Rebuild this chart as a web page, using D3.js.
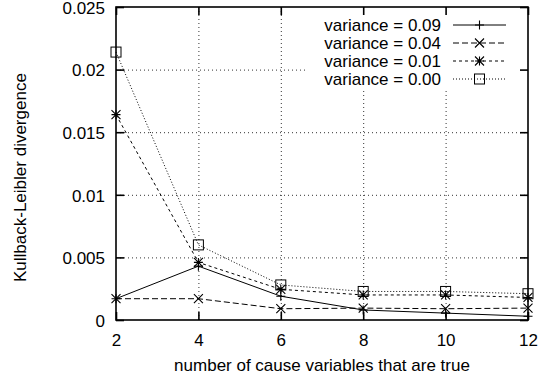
<!DOCTYPE html>
<html>
<head>
<meta charset="utf-8">
<script src="https://cdn.jsdelivr.net/npm/d3@7"></script>
<style>
  body { margin: 0; background: #fff; }
  svg { display: block; font-family: "Liberation Sans", Arial, Helvetica, sans-serif; }
</style>
</head>
<body>
<div id="chart"></div>
<script>
// data
var causes = [2, 4, 6, 8, 10, 12];
var var09 = [0.0017, 0.0043, 0.0019, 0.0008, 0.00055, 0.0003];
var var04 = [0.0017, 0.0017, 0.0009, 0.00095, 0.0009, 0.00095];
var var01 = [0.0164, 0.0046, 0.00245, 0.002, 0.002, 0.0018];
var var00 = [0.0214, 0.006, 0.0028, 0.00228, 0.00228, 0.0021];
var seriesNames = ["variance = 0.09", "variance = 0.04", "variance = 0.01", "variance = 0.00"];
var xTicks = [2, 4, 6, 8, 10, 12];
var yTicks = [0, 0.005, 0.01, 0.015, 0.02, 0.025];

function init() {
    var w = 538, h = 383;
    var left = 116, right = 528, top = 7, bottom = 320;
    var fs = 17;

    var xScale = d3.scaleLinear().domain([2, 12]).range([left, right]);
    var yScale = d3.scaleLinear().domain([0, 0.025]).range([bottom, top]);

    var svg = d3.select("#chart").append("svg")
                .attr("width", w)
                .attr("height", h);

    // dotted grid
    svg.append("g")
        .attr("transform", "translate(0," + bottom + ")")
        .call(d3.axisBottom(xScale).tickValues(xTicks.slice(1, -1)).tickSize(-(bottom - top)).tickFormat(""))
        .call(function(g){ g.select(".domain").remove(); })
        .selectAll("line")
        .attr("stroke", "#333")
        .attr("stroke-dasharray", "1,3");
    svg.append("g")
        .attr("transform", "translate(" + left + ",0)")
        .call(d3.axisLeft(yScale).tickValues(yTicks.slice(1, -1)).tickSize(-(right - left)).tickFormat(""))
        .call(function(g){ g.select(".domain").remove(); })
        .selectAll("line")
        .attr("stroke", "#333")
        .attr("stroke-dasharray", "1,3");

    // legend background hides grid
    svg.append("rect")
        .attr("x", 305).attr("y", top + 1)
        .attr("width", right - 305 - 1).attr("height", 80)
        .attr("fill", "#fff");

    // tick marks on all four sides, pointing inward
    var tl = 8;
    var axB = svg.append("g").attr("transform", "translate(0," + bottom + ")")
        .call(d3.axisBottom(xScale).tickValues(xTicks).tickSizeInner(-tl).tickSizeOuter(0).tickPadding(14));
    var axT = svg.append("g").attr("transform", "translate(0," + top + ")")
        .call(d3.axisTop(xScale).tickValues(xTicks).tickSizeInner(-tl).tickSizeOuter(0).tickFormat(""));
    var axL = svg.append("g").attr("transform", "translate(" + left + ",0)")
        .call(d3.axisLeft(yScale).tickValues(yTicks).tickSizeInner(-tl).tickSizeOuter(0).tickPadding(11)
              .tickFormat(function(d){ return d === 0 ? "0" : String(+d.toFixed(3)); }));
    var axR = svg.append("g").attr("transform", "translate(" + right + ",0)")
        .call(d3.axisRight(yScale).tickValues(yTicks).tickSizeInner(-tl).tickSizeOuter(0).tickFormat(""));
    [axB, axT, axL, axR].forEach(function(a){
        a.select(".domain").remove();
        a.selectAll("line").attr("stroke", "#000").attr("stroke-width", 1.6);
        a.selectAll("text").attr("fill", "#000").attr("font-size", fs + "px")
            .attr("font-family", "'Liberation Sans', Arial, sans-serif");
    });
    axL.selectAll("text").attr("dy", "0.37em");

    // frame
    svg.append("rect")
        .attr("x", left).attr("y", top)
        .attr("width", right - left).attr("height", bottom - top)
        .attr("fill", "none").attr("stroke", "#000").attr("stroke-width", 1.6);

    // axis titles
    svg.append("text")
        .attr("x", (left + right) / 2).attr("y", 371)
        .attr("text-anchor", "middle").attr("font-size", fs + "px")
        .text("number of cause variables that are true");
    svg.append("text")
        .attr("transform", "translate(26,282) rotate(-90)")
        .attr("text-anchor", "start").attr("font-size", fs + "px")
        .text("Kullback-Leibler divergence");

    var series = [var09, var04, var01, var00];
    var dashes = [null, "6,3", "3,3", "1,2"];
    var markers = ["plus", "cross", "star", "square"];

    function drawMarker(g, type, x, y) {
        var s = 4.5;
        var p = "";
        if (type === "plus" || type === "star") {
            p += "M" + (x - s) + "," + y + "H" + (x + s) + "M" + x + "," + (y - s) + "V" + (y + s);
        }
        if (type === "cross" || type === "star") {
            p += "M" + (x - s) + "," + (y - s) + "L" + (x + s) + "," + (y + s) +
                 "M" + (x - s) + "," + (y + s) + "L" + (x + s) + "," + (y - s);
        }
        if (type === "square") {
            g.append("rect").attr("x", x - 5).attr("y", y - 5).attr("width", 10).attr("height", 10)
                .attr("fill", "none").attr("stroke", "#000").attr("stroke-width", 1);
            return;
        }
        g.append("path").attr("d", p).attr("stroke", "#000").attr("stroke-width", 1.1).attr("fill", "none");
    }

    var line = d3.line()
        .x(function(d, i){ return xScale(causes[i]); })
        .y(function(d){ return yScale(d); });

    series.forEach(function(data, k) {
        var g = svg.append("g");
        g.append("path")
            .datum(data)
            .attr("d", line)
            .attr("fill", "none")
            .attr("stroke", "#000")
            .attr("stroke-width", 1)
            .attr("stroke-dasharray", dashes[k]);
        data.forEach(function(d, i){
            drawMarker(g, markers[k], xScale(causes[i]), yScale(d));
        });
    });

    // legend
    var rowY = [25, 43, 61, 79];
    seriesNames.forEach(function(name, k) {
        var g = svg.append("g");
        g.append("text")
            .attr("x", 441).attr("y", rowY[k]).attr("dy", "0.35em")
            .attr("text-anchor", "end").attr("font-size", fs + "px")
            .text(name);
        g.append("line")
            .attr("x1", 453).attr("x2", 506)
            .attr("y1", rowY[k]).attr("y2", rowY[k])
            .attr("stroke", "#000").attr("stroke-width", 1)
            .attr("stroke-dasharray", dashes[k]);
        drawMarker(g, markers[k], 479.5, rowY[k]);
    });
}

window.onload = init;
</script>
</body>
</html>
